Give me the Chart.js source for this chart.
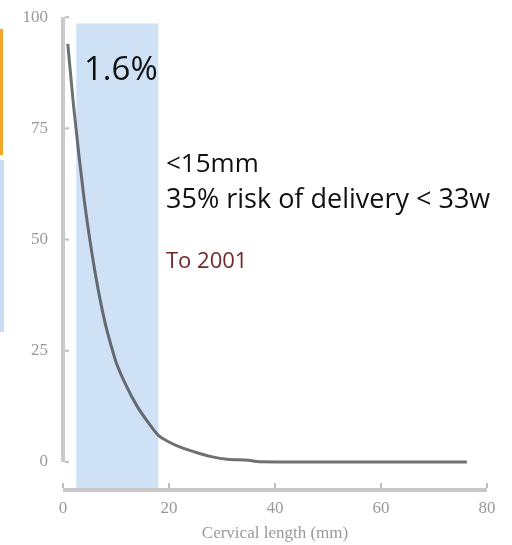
<!DOCTYPE html>
<html>
<head>
<meta charset="utf-8">
<script src="https://cdn.jsdelivr.net/npm/chart.js@4/dist/chart.umd.min.js"></script>
<style>
  html, body { margin: 0; padding: 0; background: #fff; }
  #wrap { position: relative; width: 512px; height: 545px; overflow: hidden; }
  canvas { position: absolute; left: 0; top: 0; }
  .strip { position: absolute; left: 0; }
</style>
</head>
<body>
<div id="wrap">
  <canvas id="c" width="512" height="545"></canvas>
  <div class="strip" style="top:29px;height:126px;width:3px;background:#f4a62a;"></div>
  <div class="strip" style="top:160px;height:172px;width:4px;background:#c9dcf3;"></div>
</div>
<script>
// ---- data ----
const cervicalLength = [0.9, 2, 3, 4, 5, 6, 7, 8, 9, 10, 12, 14, 16, 18, 20, 22, 25, 28, 31, 35, 37, 45, 60, 76.2];
const riskPercent    = [94, 80, 69, 59, 50.5, 43, 36.5, 31, 26.5, 22.5, 17, 12.5, 9, 6, 4.5, 3.4, 2.2, 1.2, 0.6, 0.4, 0.05, 0, 0, 0];
const yTickValues = [0, 25, 50, 75, 100];
const xTickValues = [0, 20, 40, 60, 80];
const shadeRange = [2.5, 18];   // shaded cervical-length band (mm)
const shadeTop = 98.6;
const xTitle = "Cervical length (mm)";
const labelBig = "1.6%";
const labelLine1 = "<15mm";
const labelLine2 = "35% risk of delivery < 33w";
const labelLine3 = "To 2001";

const points = cervicalLength.map((x, i) => ({ x: x, y: riskPercent[i] }));

const axisColor = '#c9c9c9';

const shadePlugin = {
  id: 'shade',
  beforeDatasetsDraw(chart) {
    const { ctx, scales: { x, y }, chartArea } = chart;
    const x0 = x.getPixelForValue(shadeRange[0]);
    const x1 = x.getPixelForValue(shadeRange[1]);
    const yt = y.getPixelForValue(shadeTop);
    ctx.save();
    ctx.fillStyle = '#cfe1f5';
    ctx.fillRect(x0, yt, x1 - x0, chartArea.bottom - yt);
    ctx.restore();
  }
};

const axesPlugin = {
  id: 'rAxes',
  beforeDatasetsDraw(chart) {
    const { ctx, scales: { x, y }, chartArea } = chart;
    ctx.save();
    ctx.strokeStyle = axisColor;
    ctx.lineWidth = 4;
    const xa = x.getPixelForValue(0);
    ctx.beginPath();
    ctx.moveTo(xa, y.getPixelForValue(yTickValues[yTickValues.length - 1]));
    ctx.lineTo(xa, y.getPixelForValue(yTickValues[0]));
    ctx.stroke();
    const yb = chartArea.bottom;
    ctx.beginPath();
    ctx.moveTo(x.getPixelForValue(xTickValues[0]), yb);
    ctx.lineTo(x.getPixelForValue(xTickValues[xTickValues.length - 1]), yb);
    ctx.stroke();
    ctx.lineWidth = 2;
    ctx.strokeStyle = '#bdbdbd';
    yTickValues.forEach(v => {
      const py = y.getPixelForValue(v);
      ctx.beginPath(); ctx.moveTo(xa + 2, py); ctx.lineTo(xa + 6, py); ctx.stroke();
    });
    xTickValues.forEach(v => {
      const px = x.getPixelForValue(v);
      ctx.beginPath(); ctx.moveTo(px, yb - 2); ctx.lineTo(px, yb - 7); ctx.stroke();
    });
    ctx.restore();
  }
};

const textPlugin = {
  id: 'notes',
  afterDraw(chart) {
    const { ctx } = chart;
    ctx.save();
    ctx.textBaseline = 'alphabetic';
    ctx.textAlign = 'left';
    ctx.fillStyle = '#111';
    ctx.font = '33px "Open Sans"';
    ctx.fillText(labelBig, 84, 80);
    ctx.font = '26px "Open Sans"';
    ctx.fillText(labelLine1, 166, 172);
    ctx.font = '27px "Open Sans"';
    ctx.fillText(labelLine2, 166, 208);
    ctx.fillStyle = '#6e2a2a';
    ctx.font = '22px "Open Sans"';
    ctx.fillText(labelLine3, 166, 268);
    ctx.restore();
  }
};

new Chart(document.getElementById('c'), {
  type: 'scatter',
  data: {
    datasets: [{
      data: points,
      showLine: true,
      borderColor: 'rgba(70,72,76,0.78)',
      borderWidth: 3,
      pointRadius: 0,
      cubicInterpolationMode: 'monotone',
      fill: false
    }]
  },
  options: {
    responsive: false,
    devicePixelRatio: 1,
    animation: false,
    layout: { padding: { left: 0, right: 25, top: 17, bottom: 0 } },
    plugins: { legend: { display: false }, tooltip: { enabled: false } },
    scales: {
      x: {
        type: 'linear',
        min: 0, max: 80,
        afterBuildTicks: s => { s.ticks = xTickValues.map(v => ({ value: v })); },
        afterFit: s => { s.height = 55; },
        grid: { display: false },
        border: { display: false },
        ticks: { padding: 0, color: '#999', font: { family: '"Liberation Serif"', size: 17 } },
        title: { display: true, text: xTitle, color: '#999', padding: { top: 0, bottom: 1 },
                 font: { family: '"Liberation Serif"', size: 17 } }
      },
      y: {
        type: 'linear',
        min: -6.3, max: 100,
        afterBuildTicks: s => { s.ticks = yTickValues.map(v => ({ value: v })); },
        afterFit: s => { s.width = 63; },
        grid: { display: false },
        border: { display: false },
        ticks: { padding: 7, color: '#999', font: { family: '"Liberation Serif"', size: 17 } }
      }
    }
  },
  plugins: [shadePlugin, axesPlugin, textPlugin]
});
</script>
</body>
</html>
